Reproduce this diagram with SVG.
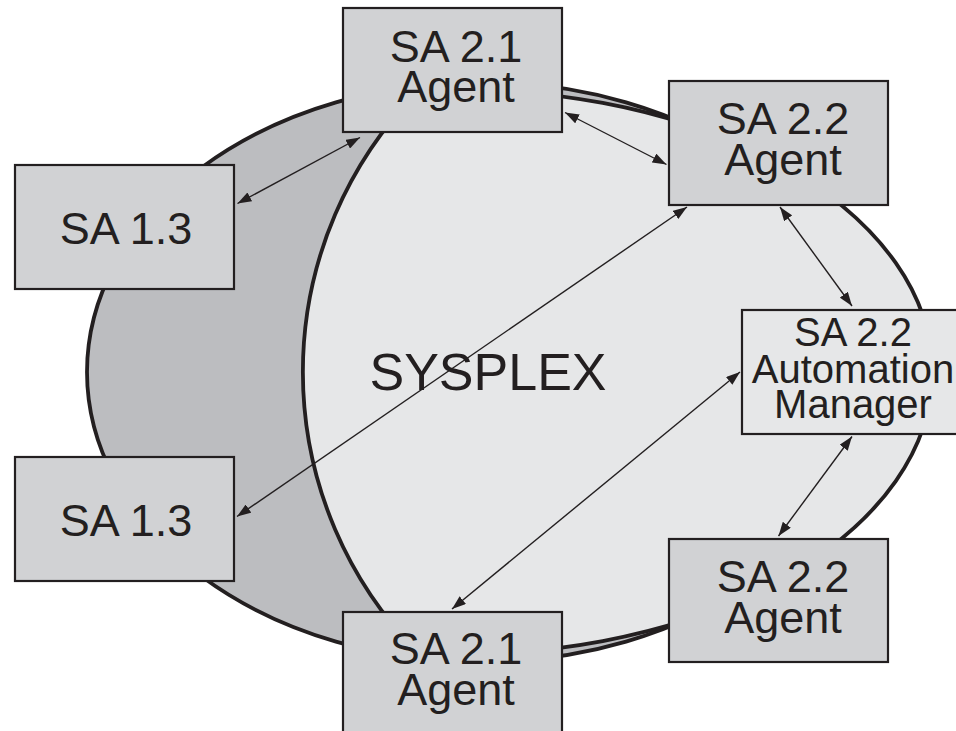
<svg xmlns="http://www.w3.org/2000/svg" width="956" height="731" viewBox="0 0 956 731">
<defs>
<style>
.box{fill:#d1d2d4;stroke:#231f20;stroke-width:2.2}
.am{fill:#e6e7e8;stroke:#231f20;stroke-width:2.2}
.t{font-family:"Liberation Sans",Arial,Helvetica,sans-serif;fill:#231f20;text-anchor:middle}
.lbl{font-size:45px}
.aml{font-size:40px}
.con{stroke:#231f20;stroke-width:1.4;fill:none;marker-start:url(#ah);marker-end:url(#ah)}
</style>
<marker id="ah" viewBox="0 0 14 10" markerWidth="14" markerHeight="10" markerUnits="userSpaceOnUse" refX="14" refY="5" orient="auto-start-reverse">
<path d="M0,0 L14,5 L0,10 z" fill="#231f20"/>
</marker>
</defs>
<rect width="956" height="731" fill="#ffffff"/>
<g id="sysplex">
<ellipse cx="481" cy="372" rx="394" ry="290" fill="#bcbdc0" stroke="#231f20" stroke-width="3.8"/>
<path d="M418,91.2 A471,282 0 1 1 418,652.8 A400,400 0 0 1 418,91.2 z" fill="#e6e7e8" stroke="#231f20" stroke-width="3.8"/>
<text class="t" x="488" y="390" font-size="52">SYSPLEX</text>
</g>
<g id="connectors">
<line class="con" x1="237.5" y1="203.5" x2="360" y2="137.5"/>
<line class="con" x1="565" y1="112.5" x2="666.5" y2="164.5"/>
<line class="con" x1="237" y1="516.5" x2="687" y2="207"/>
<line class="con" x1="780" y1="207" x2="852" y2="306"/>
<line class="con" x1="452" y1="609" x2="740" y2="372"/>
<line class="con" x1="852" y1="436.5" x2="778.5" y2="536"/>
</g>
<g id="sa21-top">
<rect class="box" x="343" y="8" width="219" height="124"/>
<text class="t lbl" x="456" y="62">SA 2.1</text>
<text class="t lbl" x="456" y="102">Agent</text>
</g>
<g id="sa22-top">
<rect class="box" x="669" y="81" width="219" height="124"/>
<text class="t lbl" x="783" y="134">SA 2.2</text>
<text class="t lbl" x="783" y="175">Agent</text>
</g>
<g id="sa13-top">
<rect class="box" x="15" y="165" width="219" height="124"/>
<text class="t lbl" x="126" y="244">SA 1.3</text>
</g>
<g id="sa13-bottom">
<rect class="box" x="15" y="457" width="219" height="124"/>
<text class="t lbl" x="126" y="536">SA 1.3</text>
</g>
<g id="sa22-am">
<rect class="am" x="742" y="310" width="222" height="124"/>
<text class="t aml" x="853" y="346">SA 2.2</text>
<text class="t aml" x="853" y="383">Automation</text>
<text class="t aml" x="853" y="418">Manager</text>
</g>
<g id="sa22-bottom">
<rect class="box" x="669" y="539" width="219" height="123"/>
<text class="t lbl" x="783" y="592">SA 2.2</text>
<text class="t lbl" x="783" y="633">Agent</text>
</g>
<g id="sa21-bottom">
<rect class="box" x="343" y="612" width="219" height="124"/>
<text class="t lbl" x="456" y="664">SA 2.1</text>
<text class="t lbl" x="456" y="705">Agent</text>
</g>
</svg>
